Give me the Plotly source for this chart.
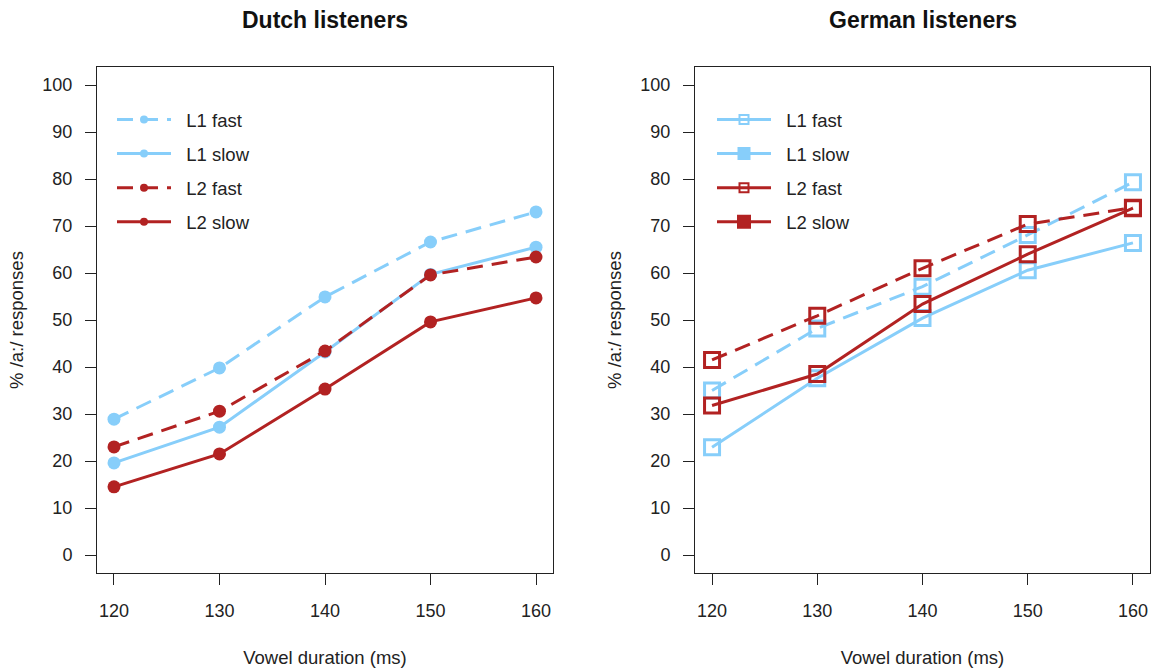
import plotly.graph_objects as go

durations = [120, 130, 140, 150, 160]

# Dutch listeners
dutch_l1_fast = [28.9, 39.8, 54.9, 66.6, 73.0]
dutch_l1_slow = [19.6, 27.2, 43.2, 59.7, 65.5]
dutch_l2_fast = [23.0, 30.6, 43.4, 59.6, 63.4]
dutch_l2_slow = [14.5, 21.5, 35.3, 49.6, 54.7]

# German listeners
german_l1_fast = [35.0, 48.2, 57.1, 68.1, 79.3]
german_l1_slow = [22.9, 37.6, 50.4, 60.6, 66.4]
german_l2_fast = [41.5, 50.9, 61.0, 70.4, 73.9]
german_l2_slow = [31.8, 38.5, 53.4, 64.0, 73.8]

series_names = ["L1 fast", "L1 slow", "L2 fast", "L2 slow"]
y_ticks = [0, 10, 20, 30, 40, 50, 60, 70, 80, 90, 100]

BLUE = "#87CEFA"
RED = "#B22222"
colors = [BLUE, BLUE, RED, RED]
dashes = ["16px,9px", "solid", "16px,9px", "solid"]
FONT = "Liberation Sans, Arial, sans-serif"
PAD = "\u00a0\u00a0"

fig = go.Figure()

dutch = [dutch_l1_fast, dutch_l1_slow, dutch_l2_fast, dutch_l2_slow]
german = [german_l1_fast, german_l1_slow, german_l2_fast, german_l2_slow]

# Dutch plot traces
for name, vals, c, d in zip(series_names, dutch, colors, dashes):
    fig.add_trace(go.Scatter(
        x=durations, y=vals, mode="lines+markers", name=name,
        line=dict(color=c, width=3, dash=d),
        marker=dict(symbol="circle", size=13, color=c),
        xaxis="x", yaxis="y", showlegend=False))
# Dutch legend entries
for i, (name, c, d) in enumerate(zip(series_names, colors, dashes)):
    fig.add_trace(go.Scatter(
        x=[None], y=[None], mode="lines+markers", name=PAD + name,
        line=dict(color=c, width=3, dash=d),
        marker=dict(symbol="circle", size=8, color=c),
        xaxis="x", yaxis="y", legend="legend", legendgroup="d%d" % i))

# German plot traces
for name, vals, c, d in zip(series_names, german, colors, dashes):
    fig.add_trace(go.Scatter(
        x=durations, y=vals, mode="lines+markers", name=name,
        line=dict(color=c, width=3, dash=d),
        marker=dict(symbol="square-open", size=15, color=c, line=dict(width=3, color=c)),
        xaxis="x2", yaxis="y2", showlegend=False))
# German legend entries
g_leg_symbols = ["square-open", "square", "square-open", "square"]
g_leg_sizes = [9, 11, 9, 12]
for i, (name, c, sym, sz) in enumerate(zip(series_names, colors, g_leg_symbols, g_leg_sizes)):
    fig.add_trace(go.Scatter(
        x=[None], y=[None], mode="lines+markers", name=PAD + name,
        line=dict(color=c, width=3, dash="solid"),
        marker=dict(symbol=sym, size=sz, color=c, line=dict(width=2, color=c)),
        xaxis="x2", yaxis="y2", legend="legend2", legendgroup="g%d" % i))

W, H = 1155, 670
ydom = [1 - 573 / H, 1 - 67 / H]

axis_common = dict(
    showline=True, linecolor="#222222", linewidth=1, mirror=True,
    ticks="outside", ticklen=11, tickcolor="#222222", tickwidth=1,
    showgrid=False, zeroline=False,
    tickfont=dict(family=FONT, size=18, color="#222222"),
)
x_title = dict(text="Vowel duration (ms)", font=dict(size=18.5), standoff=31)
y_title = dict(text="% /a:/ responses", font=dict(size=18.5), standoff=13)

fig.update_layout(
    width=W, height=H,
    margin=dict(l=0, r=0, t=0, b=0),
    paper_bgcolor="white", plot_bgcolor="white",
    font=dict(family=FONT, color="#222222"),
    xaxis=dict(domain=[97 / W, 553 / W], range=[118.39, 161.61],
               tickvals=durations, anchor="y", title=x_title,
               ticklabelstandoff=10, **axis_common),
    yaxis=dict(domain=ydom, range=[-3.83, 103.83], tickvals=y_ticks, anchor="x",
               title=y_title, ticklabelstandoff=9, **axis_common),
    xaxis2=dict(domain=[695 / W, 1150 / W], range=[118.38, 161.62],
                tickvals=durations, anchor="y2", title=x_title,
                ticklabelstandoff=10, **axis_common),
    yaxis2=dict(domain=ydom, range=[-3.83, 103.83], tickvals=y_ticks, anchor="x2",
                title=y_title, ticklabelstandoff=9, **axis_common),
    legend=dict(x=112 / W, y=1 - 101 / H, xanchor="left", yanchor="top",
                bgcolor="rgba(0,0,0,0)", font=dict(size=18.5, family=FONT),
                tracegroupgap=7, itemwidth=54),
    legend2=dict(x=712 / W, y=1 - 101 / H, xanchor="left", yanchor="top",
                 bgcolor="rgba(0,0,0,0)", font=dict(size=18.5, family=FONT),
                 tracegroupgap=7, itemwidth=54),
    annotations=[
        dict(text="<b>Dutch listeners</b>", x=(97 + 553) / 2 / W, y=1 - 20 / H,
             xref="paper", yref="paper", showarrow=False, xanchor="center",
             font=dict(size=23, family=FONT, color="#111111"), yanchor="middle"),
        dict(text="<b>German listeners</b>", x=(695 + 1150) / 2 / W, y=1 - 20 / H,
             xref="paper", yref="paper", showarrow=False, xanchor="center",
             font=dict(size=23, family=FONT, color="#111111"), yanchor="middle"),
    ],
)

fig.write_html("out.html", config={"displayModeBar": False},
               post_script="document.body.style.margin='0';")
